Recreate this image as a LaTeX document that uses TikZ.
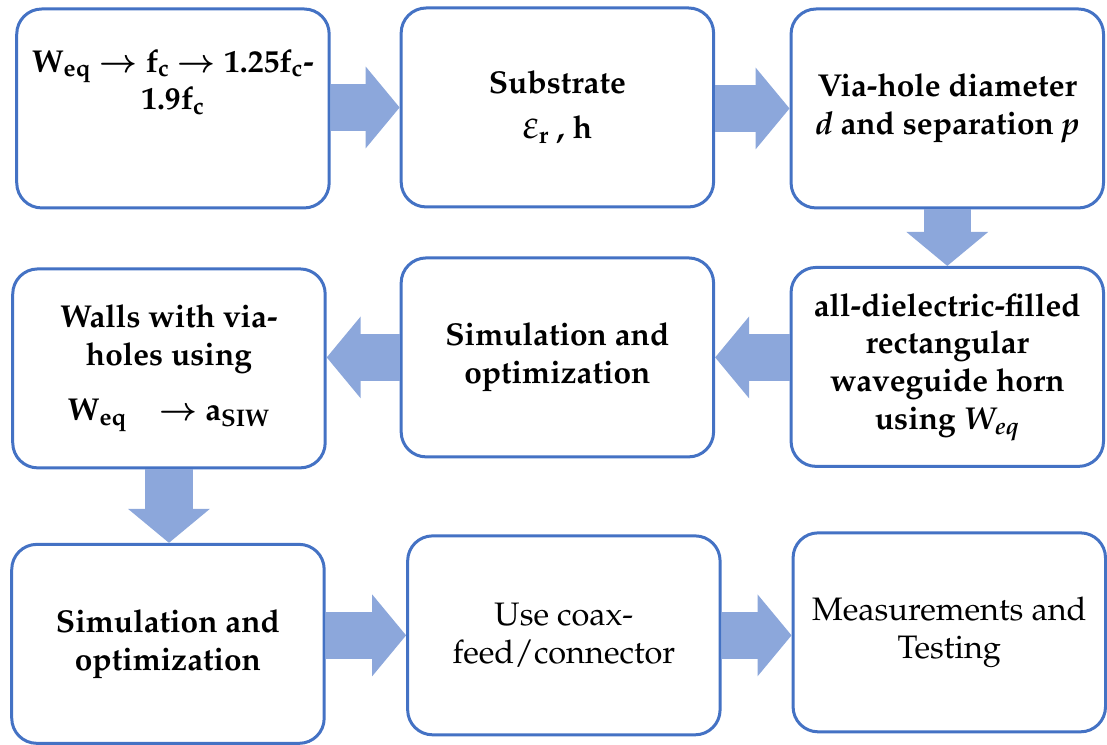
\documentclass[tikz,border=0pt]{standalone}
\usepackage[T1]{fontenc}
\usepackage{mathpazo}
\usepackage{bm}
\usepackage{xcolor}
\usepackage{tikz}
\usetikzlibrary{arrows.meta,calc}
\definecolor{boxblue}{RGB}{68,114,196}
\definecolor{flowblue}{RGB}{140,167,219}
\tikzset{Blk/.style={rectangle,rounded corners=0.5cm,draw=boxblue,line width=0.06cm,fill=white,
    minimum width=6.25cm,minimum height=3.98cm,align=center,
    font=\fontsize{18}{21.5}\selectfont\bfseries}}
\tikzset{Flow/.style={draw=flowblue,line width=0.95cm,-{Triangle[width=1.6cm,length=0.68cm]}}}
\newcommand{\sub}[1]{\textsubscript{#1}}

\begin{document}
\begin{tikzpicture}
    \node[Blk] (S1) at (3.46,12.73) {W\sub{eq} $\bm{\rightarrow}$ f\sub{c} $\bm{\rightarrow}$ 1.25f\sub{c}-\\1.9f\sub{c}\\[0.4cm]};
    \node[Blk] (S2) at (11.15,12.75) {Substrate\\[0.15cm]{\fontsize{23}{23}\selectfont$\varepsilon$}\sub{r} , h};
    \node[Blk] (S3) at (18.95,12.73) {Via-hole diameter\\\textit{d} and separation \textit{p}};
    \node[Blk] (S4) at (3.38,7.53) {Walls with via-\\holes using\\[0.35cm]W\sub{eq}\quad$\bm{\rightarrow}$ a\sub{SIW}};
    \node[Blk] (S5) at (11.15,7.75) {Simulation and\\optimization};
    \node[Blk] (S6) at (18.95,7.56) {all-dielectric-filled\\rectangular\\waveguide horn\\using \textit{W\sub{eq}}};
    \node[Blk] (S7) at (3.36,2.02) {Simulation and\\optimization};
    \node[Blk,font=\fontsize{18.5}{21.5}\selectfont] (S8) at (11.28,2.19) {Use coax-\\feed/connector};
    \node[Blk,font=\fontsize{18.5}{21.5}\selectfont] (S9) at (18.99,2.25) {Measurements and\\Testing};
    \begin{scope}[Flow]
      \draw (S1.east |- S2.west) -- (S2.west);
      \draw (S2.east |- S3.west) -- (S3.west);
      \draw (S3.south) -- (S3.south |- S6.north);
      \draw (S6.west |- S5.east) -- (S5.east);
      \draw (S5.west) -- (S5.west -| S4.east);
      \draw (S4.south) -- (S4.south |- S7.north);
      \draw (S7.east |- S8.west) -- (S8.west);
      \draw (S8.east) -- (S8.east -| S9.west);
    \end{scope}
    \useasboundingbox (0,0) rectangle (22.14,14.9);
  \end{tikzpicture}
\end{document}
